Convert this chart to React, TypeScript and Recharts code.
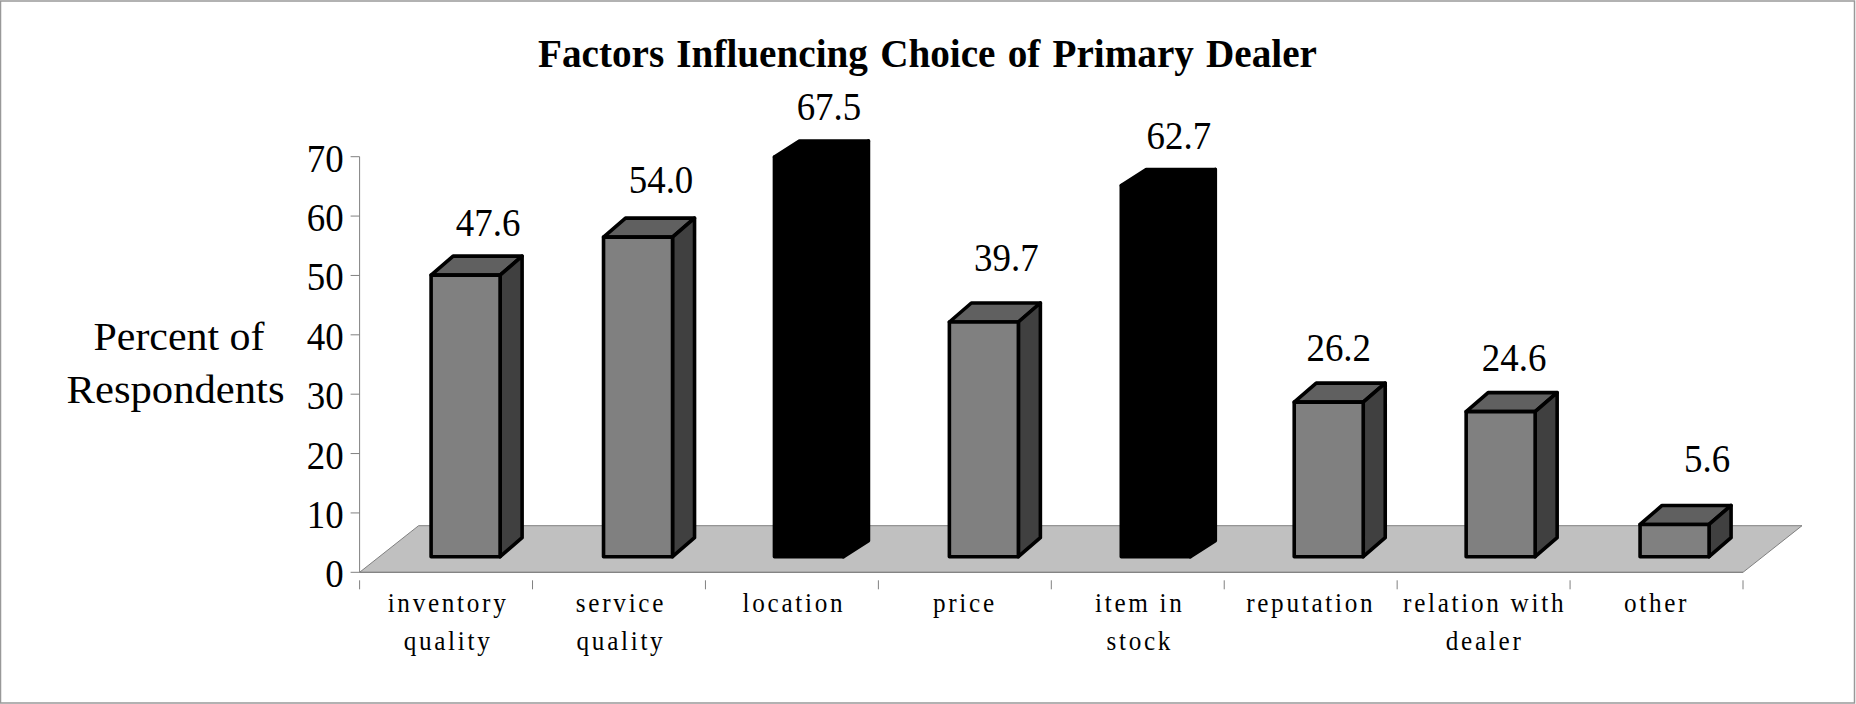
import React from "react";
import { BarChart, Bar, XAxis, YAxis, ReferenceArea, LabelList, Customized } from "recharts";

const categories = [
  "inventory quality",
  "service quality",
  "location",
  "price",
  "item in stock",
  "reputation",
  "relation with dealer",
  "other",
];
const percents = [47.6, 54.0, 67.5, 39.7, 62.7, 26.2, 24.6, 5.6];
const highlighted = ["location", "item in stock"];
const yTicks = [0, 10, 20, 30, 40, 50, 60, 70];
const floorDepthValue = 7.85;

const data = categories.map((category, i) => ({ category, percent: percents[i] }));

// layout constants
const W = 1856;
const H = 704;
const PLOT_LEFT = 359.6;
const PLOT_TOP = 156.7;
const PLOT_RIGHT = 1743;
const PLOT_BOTTOM = 572.3;
const BAND = (PLOT_RIGHT - PLOT_LEFT) / categories.length;
const GRAY = "#808080";
const SERIF = "'Liberation Serif', 'Times New Roman', serif";
const BAR_DX = 17;
const BASE_LIFT = 15.6;
const TOP_LIFT = 14.6;
const BAR_NUDGE = [2.5, 2, 0, 2, 1, 1, 0, 1];
const LABEL_NUDGE = [
  [42, -39],
  [42, -44.5],
  [37, -36.5],
  [41.5, -51],
  [41, -36],
  [28, -41],
  [30.5, -41],
  [50.5, -52.5],
];
const CATEGORY_SHIFT = [0, 0, 0, -2, 0, -2, -1, -2];

function Stretch({ x, y, size, anchor = "middle", weight = "normal", spacing = 0, words = 0, children, fit }: any) {
  return (
    <text
      transform={`translate(${x} ${y}) scale(0.9 1)`}
      textAnchor={anchor}
      fontFamily={SERIF}
      fontSize={size}
      fontWeight={weight}
      letterSpacing={spacing}
      wordSpacing={words}
      fill="#000"
      textLength={fit}
      lengthAdjust={fit ? "spacingAndGlyphs" : undefined}
    >
      {children}
    </text>
  );
}

function YTick({ x, y, payload }: any) {
  return (
    <Stretch x={343.6} y={y + 15} size={41} anchor="end">
      {payload.value}
    </Stretch>
  );
}

function splitLabel(label: string) {
  const words = label.split(" ");
  if (words.length < 2) return [label];
  return [words.slice(0, -1).join(" "), words[words.length - 1]];
}

function XTick({ x, y, payload, index }: any) {
  const lines = splitLabel(payload.value);
  const left = x - BAND / 2;
  const right = x + BAND / 2;
  return (
    <g>
      <line x1={left} x2={left} y1={y} y2={y + 9} stroke={GRAY} />
      {index === categories.length - 1 && <line x1={right} x2={right} y1={y} y2={y + 9} stroke={GRAY} />}
      {lines.map((line, i) => (
        <Stretch key={i} x={x + 2 + CATEGORY_SHIFT[index]} y={612 + i * 38} size={28} spacing={3}>
          {line}
        </Stretch>
      ))}
    </g>
  );
}

function Floor({ x, y, width, height }: any) {
  const dx = 59;
  const b = y + height;
  return (
    <polygon
      points={`${x},${b} ${x + width},${b} ${x + width + dx},${y} ${x + dx},${y}`}
      fill="#c0c0c0"
      stroke={GRAY}
      strokeWidth={1}
    />
  );
}

function Box({ x, y, width, height, payload, index }: any) {
  const isDark = highlighted.includes(payload.category);
  const left = x + BAR_DX + BAR_NUDGE[index];
  const right = left + width;
  const top = y - TOP_LIFT;
  const bottom = y + height - BASE_LIFT;
  const dx = isDark ? 25 : 22;
  const dy = isDark ? 16 : 19;
  const common = { stroke: "#000", strokeWidth: 3.6, strokeLinejoin: "round" as const };
  return (
    <g>
      <polygon
        points={`${left},${top} ${left + dx},${top - dy} ${right + dx},${top - dy} ${right},${top}`}
        fill={isDark ? "#000" : "#606060"}
        {...common}
      />
      <polygon
        points={`${right},${top} ${right + dx},${top - dy} ${right + dx},${bottom - dy} ${right},${bottom}`}
        fill={isDark ? "#000" : "#404040"}
        {...common}
      />
      <rect x={left} y={top} width={width} height={bottom - top} fill={isDark ? "#000" : "#808080"} {...common} />
    </g>
  );
}

function ValueLabel({ x, y, width, value, index }: any) {
  const [nx, ny] = LABEL_NUDGE[index];
  const center = x + width / 2;
  return (
    <Stretch x={center + nx} y={y - TOP_LIFT + ny} size={41}>
      {Number(value).toFixed(1)}
    </Stretch>
  );
}

function Decorations() {
  return (
    <g>
      <rect x={0.5} y={1} width={1854} height={702} fill="none" stroke="#999" strokeWidth={1.5} />
      <Stretch x={927.5} y={67} size={41} weight="bold" words={2.5} fit={779 / 0.9}>
        Factors Influencing Choice of Primary Dealer
      </Stretch>
      <Stretch x={179} y={350} size={40} fit={171 / 0.9}>
        Percent of
      </Stretch>
      <Stretch x={175.5} y={403} size={40} fit={218 / 0.9}>
        Respondents
      </Stretch>
    </g>
  );
}

export default function App() {
  return (
    <div style={{ position: "absolute", left: 0, top: 0, width: W, height: H }}>
      <BarChart
        width={W}
        height={H}
        data={data}
        barSize={69}
        margin={{ top: PLOT_TOP, right: W - PLOT_RIGHT, bottom: 0, left: 0 }}
      >
        <Customized component={Decorations} />
        <ReferenceArea y1={0} y2={floorDepthValue} ifOverflow="visible" shape={Floor} />
        <XAxis
          dataKey="category"
          height={H - PLOT_BOTTOM}
          interval={0}
          tick={XTick}
          tickLine={false}
          axisLine={{ stroke: GRAY }}
        />
        <YAxis
          width={PLOT_LEFT}
          domain={[0, 70]}
          ticks={yTicks}
          interval={0}
          tick={YTick}
          tickSize={9}
          tickLine={{ stroke: GRAY }}
          axisLine={{ stroke: GRAY }}
        />
        <Bar dataKey="percent" isAnimationActive={false} shape={Box}>
          <LabelList dataKey="percent" content={ValueLabel} />
        </Bar>
      </BarChart>
    </div>
  );
}
